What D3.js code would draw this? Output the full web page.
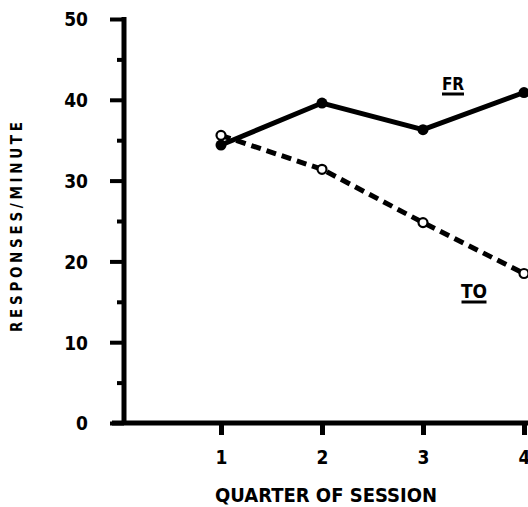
<!DOCTYPE html>
<html lang="en">
<head>
<meta charset="UTF-8">
<title>Responses per minute by quarter of session</title>
<script src="https://d3js.org/d3.v7.min.js"></script>
<style>
  body { margin: 0; background: #fff; }
  svg { display: block; }
  text { font-family: "DejaVu Sans Condensed", "DejaVu Sans", sans-serif; font-stretch: condensed; font-weight: bold; fill: #000; }
</style>
</head>
<body>
<div id="chart"></div>
<script>
// values
const quarters = [1, 2, 3, 4];
const frValues = [34.4, 39.6, 36.3, 40.9];
const toValues = [35.6, 31.4, 24.8, 18.5];
const yTicks = [0, 10, 20, 30, 40, 50];
const yMinorTicks = [5, 15, 25, 35, 45];

const width = 528, height = 507;

const svg = d3.select("#chart").append("svg")
  .attr("width", width)
  .attr("height", height);

const x = d3.scaleLinear().domain([1, 4]).range([221, 524]);
const y = d3.scaleLinear().domain([0, 50]).range([423, 19]);
const axisX = 124;

// y axis: major ticks with labels
const yAxis = svg.append("g")
  .attr("transform", `translate(${axisX},0)`)
  .call(d3.axisLeft(y).tickValues(yTicks).tickSize(14).tickPadding(22).tickFormat(d3.format("d")));
yAxis.select(".domain").remove();
yAxis.selectAll(".tick line").attr("stroke", "#000").attr("stroke-width", 4);
yAxis.selectAll(".tick text").attr("font-size", 19).attr("font-family", null).attr("dy", "0.36em");

// minor ticks
const yMinor = svg.append("g")
  .attr("transform", `translate(${axisX},0)`)
  .call(d3.axisLeft(y).tickValues(yMinorTicks).tickSize(7).tickFormat(""));
yMinor.select(".domain").remove();
yMinor.selectAll(".tick line").attr("stroke", "#000").attr("stroke-width", 4);

// axis lines
svg.append("line")
  .attr("x1", axisX).attr("x2", axisX)
  .attr("y1", y(50) - 2).attr("y2", y(0) + 2)
  .attr("stroke", "#000").attr("stroke-width", 5);

const xAxis = svg.append("g")
  .attr("transform", `translate(0,${y(0)})`)
  .call(d3.axisBottom(x).tickValues(quarters).tickSize(12).tickPadding(16).tickFormat(d3.format("d")));
xAxis.select(".domain").remove();
xAxis.selectAll(".tick line").attr("stroke", "#000").attr("stroke-width", 5);
xAxis.selectAll(".tick text").attr("font-size", 19).attr("font-family", null);

svg.append("line")
  .attr("x1", 112).attr("x2", width)
  .attr("y1", y(0)).attr("y2", y(0))
  .attr("stroke", "#000").attr("stroke-width", 5);

// axis titles
svg.append("text")
  .attr("x", 215).attr("y", 502)
  .attr("font-size", 20)
  .attr("textLength", 222).attr("lengthAdjust", "spacing")
  .text("QUARTER OF SESSION");

svg.append("text")
  .attr("transform", "translate(22,332) rotate(-90)")
  .attr("font-size", 15)
  .attr("textLength", 210).attr("lengthAdjust", "spacing")
  .text("RESPONSES/MINUTE");

// series
const line = d3.line().x((d, i) => x(quarters[i])).y(d => y(d));

svg.append("path")
  .datum(toValues)
  .attr("d", line)
  .attr("fill", "none")
  .attr("stroke", "#000")
  .attr("stroke-width", 5)
  .attr("stroke-dasharray", "10,6");

svg.append("path")
  .datum(frValues)
  .attr("d", line)
  .attr("fill", "none")
  .attr("stroke", "#000")
  .attr("stroke-width", 5);

svg.selectAll(".fr-pt")
  .data(frValues)
  .enter().append("circle")
  .attr("class", "fr-pt")
  .attr("cx", (d, i) => x(quarters[i]))
  .attr("cy", d => y(d))
  .attr("r", 5.5)
  .attr("fill", "#000");

svg.selectAll(".to-pt")
  .data(toValues)
  .enter().append("circle")
  .attr("class", "to-pt")
  .attr("cx", (d, i) => x(quarters[i]))
  .attr("cy", d => y(d))
  .attr("r", 4.5)
  .attr("fill", "#fff")
  .attr("stroke", "#000")
  .attr("stroke-width", 2.2);

// series labels, underlined
function label(txt, cx, baseline, size, w) {
  svg.append("text")
    .attr("x", cx).attr("y", baseline)
    .attr("text-anchor", "middle")
    .attr("font-size", size)
    .text(txt);
  svg.append("line")
    .attr("x1", cx - w / 2).attr("x2", cx + w / 2)
    .attr("y1", baseline + 4).attr("y2", baseline + 4)
    .attr("stroke", "#000").attr("stroke-width", 3);
}
label("FR", 453, 90, 17, 22);
label("TO", 474, 298, 19, 25);
</script>
</body>
</html>
